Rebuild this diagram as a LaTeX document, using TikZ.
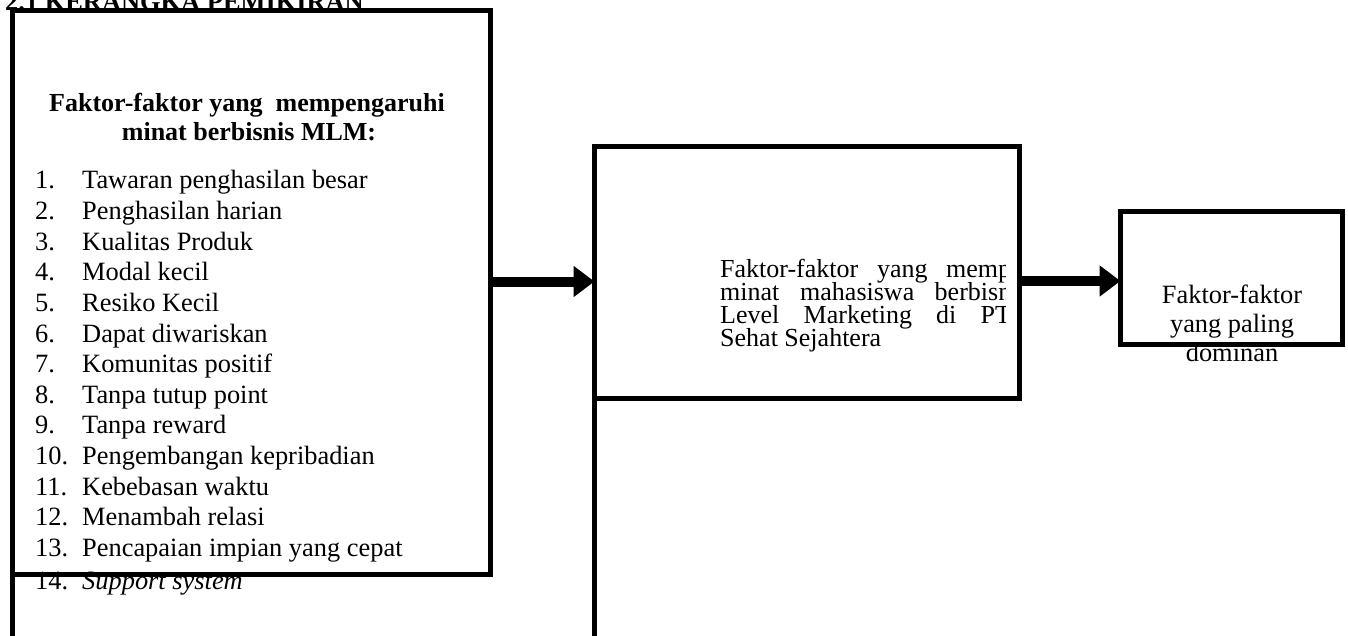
\documentclass[tikz,border=0pt]{standalone}
\usepackage{fontspec}
\setmainfont{Liberation Serif}
\usetikzlibrary{arrows.meta}
\begin{document}
\begin{tikzpicture}[x=1pt,y=-1pt,
  box/.style={draw, line width=5pt, inner sep=0pt, outer sep=0pt, rectangle},
  ext/.style={line width=5pt},
  txt/.style={inner sep=0pt, anchor=base west, font=\fontsize{26.4}{30}\selectfont},
  ctxt/.style={inner sep=0pt, anchor=base, font=\fontsize{26.4}{30}\selectfont},
  btxt/.style={inner sep=0pt, anchor=base, font=\fontsize{26}{30}\selectfont\bfseries},
  mtxt/.style={inner sep=0pt, anchor=base west, font=\fontsize{26}{23}\selectfont},
  arr/.style={line width=10pt, -{Triangle[length=21pt,width=30pt]}}]
\clip (0,0) rectangle (1348,636);
\useasboundingbox (0,0) rectangle (1348,636);

% title (partly cut by the page top)
\node[txt, font=\fontsize{26.4}{30}\selectfont\bfseries] (title) at (5,11) {2.1 KERANGKA PEMIKIRAN};

% heading of left box
\node[btxt] (h1) at (247,112) {Faktor-faktor yang\ \ mempengaruhi};
\node[btxt] (h2) at (249,140.5) {minat berbisnis MLM:};

% list
\foreach \i/\t in {1/Tawaran penghasilan besar, 2/Penghasilan harian, 3/Kualitas Produk,
  4/Modal kecil, 5/Resiko Kecil, 6/Dapat diwariskan, 7/Komunitas positif,
  8/Tanpa tutup point, 9/Tanpa reward, 10/Pengembangan kepribadian,
  11/Kebebasan waktu, 12/Menambah relasi, 13/Pencapaian impian yang cepat}{
  \node[txt] (n\i) at (35,{189+(\i-1)*30.6}) {\i.};
  \node[txt] (t\i) at (82,{189+(\i-1)*30.6}) {\t};
}
\node[txt] (n14) at (35,589) {14.};
\node[txt] (t14) at (82,589) {\textit{Support system}};

% middle text (clipped at right)
\begin{scope}
  \clip (700,250) rectangle (1005,360);
  \node[mtxt] (m1) at (720,277.5) {\makebox[157pt][l]{Faktor-faktor}\makebox[69pt][l]{yang}memp};
  \node[mtxt] (m2) at (720,300.5) {\makebox[80pt][l]{minat}\makebox[134.5pt][l]{mahasiswa}berbisn};
  \node[mtxt] (m3) at (720,323.5) {\makebox[83.5pt][l]{Level}\makebox[132.5pt][l]{Marketing}\makebox[44.5pt][l]{di}PT};
  \node[mtxt] (m4) at (720,346.5) {Sehat Sejahtera};
\end{scope}

% right text
\node[ctxt] (r1) at (1232,303) {Faktor-faktor};
\node[ctxt] (r2) at (1232,332) {yang paling};
\node[ctxt] (r3) at (1232,361) {dominan};

% boxes
\node[box, minimum width=478pt, minimum height=563.5pt] (left) at (251.5,292.25) {};
\node[box, minimum width=424.5pt, minimum height=251pt] (mid) at (806.75,272.5) {};
\node[box, minimum width=222pt, minimum height=132pt] (right) at (1231.5,278) {};

% extensions of left edges down to the page bottom
\coordinate (bot) at (0,650);
\draw[ext] (left.south west) -- (left.south west |- bot);
\draw[ext] (mid.south west) -- (mid.south west |- bot);

% arrows
\coordinate (a1) at (0,281.5);
\coordinate (a2) at (0,281);
\draw[arr] (left.east |- a1) -- (mid.west |- a1);
\draw[arr] (mid.east |- a2) -- (right.west |- a2);
\end{tikzpicture}
\end{document}
